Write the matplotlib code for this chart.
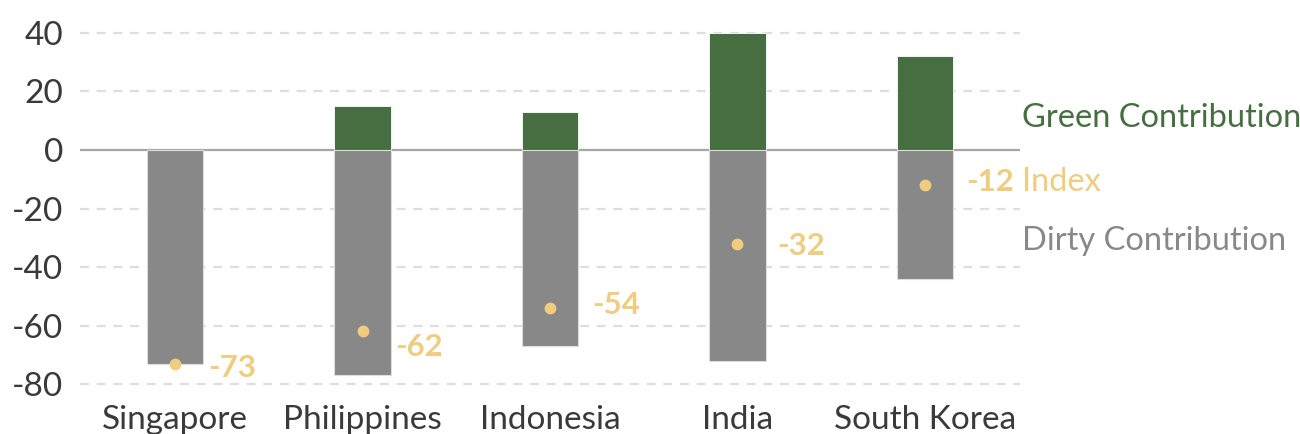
import matplotlib
matplotlib.use("Agg")
import matplotlib.pyplot as plt
import matplotlib.transforms as mtransforms

countries = ["Singapore", "Philippines", "Indonesia", "India", "South Korea"]
green = [0, 15, 13, 40, 32]
dirty = [-73, -77, -67, -72, -44]
index_vals = [-73, -62, -54, -32, -12]
yticks = [-80, -60, -40, -20, 0, 20, 40]
legend_labels = ["Green Contribution", "Index", "Dirty Contribution"]
legend_y = [11, -11, -31]

GREEN = "#466e40"
GRAY = "#888888"
GOLD = "#f0cd7e"
TXT = "#3a3a3a"

plt.rcParams['font.family'] = ['Lato', 'DejaVu Sans']

fig = plt.figure(figsize=(13, 4.34), dpi=100)
ax = fig.add_axes([80/1300, 0.1017, 940/1300, 0.8324])

x = list(range(len(countries)))
ax.bar(x, green, width=0.3, color=GREEN, edgecolor="white", linewidth=0.6, zorder=3)
ax.bar(x, dirty, width=0.3, color=GRAY, edgecolor="#dddddd", linewidth=0.8, zorder=3)
ax.scatter(x, index_vals, s=72, color=GOLD, zorder=4, linewidths=0)

offsets = [(33, -4), (33, -16), (42, 3), (40, -2), (41, 3)]
for xi, v, (dx, dy) in zip(x, index_vals, offsets):
    ax.annotate(f"{v}", (xi, v), xytext=(dx / 1.389, dy / 1.389),
                textcoords="offset points", ha="left", va="center",
                color=GOLD, fontsize=22.5, fontweight="bold", zorder=5)

ax.set_xlim(-0.507, 4.507)
ax.set_ylim(-82, 41.5)

for t in yticks:
    if t == 0:
        ax.axhline(0, color="#a6a6a6", linewidth=1.6, zorder=2)
    else:
        ax.axhline(t, color="#dedede", linewidth=1.6, linestyle=(0, (4, 3.5)), zorder=1)

ax.set_yticks(yticks)
ax.set_yticklabels([str(t) for t in yticks])
ax.set_xticks(x)
ax.set_xticklabels(countries)
ax.tick_params(axis="both", length=0, labelsize=24, colors=TXT)
ax.tick_params(axis="y", pad=12)
ax.tick_params(axis="x", pad=11)
for s in ax.spines.values():
    s.set_visible(False)

trans = mtransforms.blended_transform_factory(ax.transAxes, ax.transData)
for lab, yv, c in zip(legend_labels, legend_y, [GREEN, GOLD, GRAY]):
    ax.text(1.002, yv, lab, transform=trans, ha="left", va="center",
            color=c, fontsize=23.5, clip_on=False)

fig.savefig("out.png", dpi=100)
